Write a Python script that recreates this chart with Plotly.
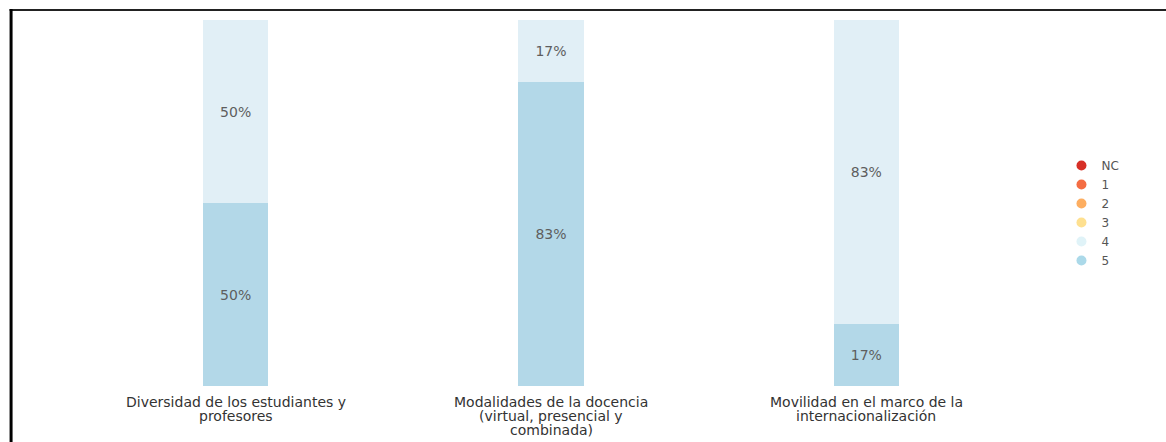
import plotly.graph_objects as go

categories = [
    "Diversidad de los estudiantes y<br>profesores",
    "Modalidades de la docencia<br>(virtual, presencial y<br>combinada)",
    "Movilidad en el marco de la<br>internacionalización",
]
legend_labels = ["NC", "1", "2", "3", "4", "5"]
legend_colors = ["#d73027", "#f46d43", "#fdae61", "#fee090", "#e0f3f8", "#abd9e9"]
values_5 = [50, 83, 17]
values_4 = [50, 17, 83]

W, H = 1166, 442
ml, mr, mt, mb = 77.5, 141.5, 20, 56
pw = W - ml - mr
ph = H - mt - mb

fig = go.Figure()
font = "DejaVu Sans, Verdana, sans-serif"

fig.add_trace(go.Bar(
    x=categories, y=values_5, width=0.207, marker=dict(color="#b3d8e8", line=dict(width=0)),
    text=[f"{v}%" for v in values_5], textposition="inside", insidetextanchor="middle",
    textfont=dict(color="#5e5e5e", size=14, family=font), showlegend=False, name="5",
))
fig.add_trace(go.Bar(
    x=categories, y=values_4, width=0.207, marker=dict(color="#e1eff6", line=dict(width=0)),
    text=[f"{v}%" for v in values_4], textposition="inside", insidetextanchor="middle",
    textfont=dict(color="#5e5e5e", size=14, family=font), showlegend=False, name="4",
))

for lab, col in zip(legend_labels, legend_colors):
    fig.add_trace(go.Scatter(
        x=[None], y=[None], mode="markers", name=lab,
        marker=dict(symbol="circle", size=10, color=col),
    ))

annotations = []
for cat in categories:
    for i, line in enumerate(cat.split("<br>")):
        annotations.append(dict(
            x=cat, y=0, xref="x", yref="y", text=line, showarrow=False,
            xanchor="center", yanchor="middle", yshift=-(16 + 14 * i),
            font=dict(family=font, size=14, color="#333333"),
        ))


def px_x(p):
    return (p - ml) / pw


def px_y(p):
    return (H - mb - p) / ph


fig.update_layout(
    width=W, height=H,
    margin=dict(l=ml, r=mr, t=mt, b=mb, pad=0, autoexpand=False),
    paper_bgcolor="white", plot_bgcolor="white",
    barmode="stack",
    font=dict(family=font, size=13, color="#333333"),
    xaxis=dict(showgrid=False, zeroline=False, showline=False, ticks="",
               showticklabels=False, fixedrange=True, automargin=False),
    yaxis=dict(range=[0, 100], visible=False, fixedrange=True, automargin=False),
    legend=dict(x=px_x(1062), xanchor="left", y=px_y(213), yanchor="middle",
                font=dict(size=12, color="#555555", family=font), traceorder="normal",
                itemwidth=30, tracegroupgap=0, bgcolor="rgba(0,0,0,0)"),
    annotations=annotations,
    shapes=[
        dict(type="line", xref="paper", yref="paper",
             x0=px_x(9), x1=px_x(W + 5), y0=px_y(10), y1=px_y(10),
             line=dict(color="#222222", width=2)),
        dict(type="line", xref="paper", yref="paper",
             x0=px_x(10.5), x1=px_x(10.5), y0=px_y(9), y1=px_y(H + 5),
             line=dict(color="#000000", width=3)),
    ],
)

fig.write_html("out.html")
